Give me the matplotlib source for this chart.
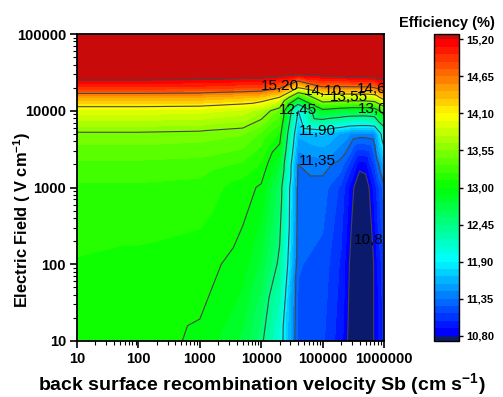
import numpy as np
import matplotlib
matplotlib.use("Agg")
import matplotlib.pyplot as plt
import matplotlib.tri as mtri
from matplotlib.colors import ListedColormap, LinearSegmentedColormap

plt.rcParams['font.family'] = ['Liberation Sans', 'DejaVu Sans']
plt.rcParams['mathtext.fontset'] = 'custom'
plt.rcParams['mathtext.rm'] = 'Liberation Sans'
plt.rcParams['mathtext.bf'] = 'Liberation Sans:bold'

# back surface recombination velocity (cm/s) and electric field (V/cm)
sb = [10, 100, 1000, 5000, 1e4, 2e4, 4e4, 1e5, 2e5, 3e5, 4e5, 5e5, 7e5, 1e6]
field = [10, 100, 1000, 2000, 5000, 1e4, 1.5e4, 2e4, 3e4, 5e4, 1e5]

# efficiency (%), one row per field value
eff_e10 = [13.08, 13.05, 12.98, 12.75, 12.50, 12.05, 11.20, 11.15, 10.95, 10.70, 10.60, 10.60, 10.82, 11.05]
eff_e100 = [13.10, 13.08, 13.05, 12.95, 12.75, 12.40, 11.25, 11.20, 11.00, 10.74, 10.62, 10.62, 10.82, 11.10]
eff_e1000 = [13.20, 13.20, 13.18, 13.05, 12.98, 12.60, 11.30, 11.30, 11.10, 10.84, 10.68, 10.70, 10.95, 11.30]
eff_e2000 = [13.30, 13.30, 13.28, 13.20, 13.10, 12.80, 11.35, 11.40, 11.30, 11.05, 10.85, 10.87, 11.15, 11.60]
eff_e5000 = [13.52, 13.52, 13.50, 13.45, 13.30, 13.10, 11.60, 11.70, 11.55, 11.45, 11.42, 11.42, 11.45, 12.10]
eff_e1e4 = [13.95, 13.95, 13.93, 13.85, 13.70, 13.40, 11.90, 12.90, 12.80, 12.75, 12.75, 12.75, 12.80, 13.20]
eff_e15e3 = [14.45, 14.45, 14.43, 14.35, 14.30, 14.10, 13.05, 13.90, 13.85, 13.85, 13.85, 13.85, 13.90, 14.30]
eff_e2e4 = [14.95, 14.95, 14.93, 14.88, 14.85, 14.70, 14.10, 14.60, 14.60, 14.60, 14.60, 14.60, 14.65, 14.90]
eff_e3e4 = [15.40, 15.40, 15.38, 15.35, 15.35, 15.30, 15.22, 15.30, 15.35, 15.40, 15.40, 15.40, 15.40, 15.40]
eff_e5e4 = [15.50, 15.50, 15.50, 15.50, 15.50, 15.50, 15.50, 15.50, 15.50, 15.50, 15.50, 15.50, 15.50, 15.50]
eff_e1e5 = [15.50, 15.50, 15.50, 15.50, 15.50, 15.50, 15.50, 15.50, 15.50, 15.50, 15.50, 15.50, 15.50, 15.50]

x_ticks = [10, 100, 1000, 10000, 100000, 1000000]
y_ticks = [10, 100, 1000, 10000, 100000]
levels = np.round(np.arange(10.80, 15.20 + 0.001, 0.11), 2)
line_levels = np.round(np.arange(10.80, 15.20 + 0.001, 0.55), 2)

# where the contour labels sit (Sb, E) and which level they name
label_levels = [15.20, 14.10, 13.55, 14.65, 13.00, 12.45, 11.90, 11.35, 10.80]
label_sb = [2.0e4, 1.0e5, 2.7e5, 7.4e5, 7.6e5, 4.0e4, 8.1e4, 8.1e4, 6.6e5]
label_e = [2.1e4, 1.8e4, 1.5e4, 1.9e4, 1.05e4, 1.02e4, 5.5e3, 2.2e3, 2.1e2]

eff = np.array([eff_e10, eff_e100, eff_e1000, eff_e2000, eff_e5000, eff_e1e4,
                eff_e15e3, eff_e2e4, eff_e3e4, eff_e5e4, eff_e1e5])
SB, EF = np.meshgrid(np.log10(sb), np.log10(field))
tri = mtri.Triangulation(SB.ravel(), EF.ravel())

rainbow = LinearSegmentedColormap.from_list(
    'rainbow5', ['#0000ff', '#00ffff', '#00ff00', '#ffff00', '#ff0000'])
cmap = ListedColormap(rainbow(np.linspace(0, 1, len(levels) - 1)))
cmap.set_under('#0b1a6c')
cmap.set_over('#c80a0a')

fig = plt.figure(figsize=(5.03, 3.97), dpi=100)
ax = fig.add_axes((77 / 503, 56 / 397, 307 / 503, 307 / 397))
cax = fig.add_axes((434 / 503, 56 / 397, 25 / 503, 307 / 397))

cs = ax.tricontourf(tri, eff.ravel(), levels=levels, cmap=cmap, extend='both')
ax.tricontour(tri, eff.ravel(), levels=line_levels, colors='#454545', linewidths=0.8)

for lev, xs, ys in zip(label_levels, label_sb, label_e):
    ax.text(np.log10(xs), np.log10(ys), ('%.2f' % lev).replace('.', ','),
            fontsize=11, ha='center', va='center', clip_on=True)

ax.set_xlim(1, 6)
ax.set_ylim(1, 5)
ax.set_xticks(np.log10(x_ticks))
ax.set_xticklabels([str(v) for v in x_ticks])
ax.set_yticks(np.log10(y_ticks))
ax.set_yticklabels([str(v) for v in y_ticks])
ax.set_xticks([np.log10(k * 10 ** n) for n in range(1, 6) for k in range(2, 10)], minor=True)
ax.set_yticks([np.log10(k * 10 ** n) for n in range(1, 5) for k in range(2, 10)], minor=True)
ax.tick_params(which='major', direction='out', length=5, width=1.2, labelsize=10.5, pad=3)
ax.tick_params(which='minor', direction='out', length=3, width=0.8)
for lab in ax.get_xticklabels() + ax.get_yticklabels():
    lab.set_fontweight('bold')
for sp in ax.spines.values():
    sp.set_linewidth(1.3)

ax.set_xlabel(r'back surface recombination velocity Sb (cm s$^{\mathbf{-1}}$)',
              fontsize=14, fontweight='bold')
ax.xaxis.set_label_coords((261.5 - 77) / 307, -(385 - 341) / 307)
ax.xaxis.label.set_va('center')
ax.set_ylabel(r'Electric Field ( V cm$^{\mathbf{-1}}$)', fontsize=11.8, fontweight='bold')
ax.yaxis.set_label_coords(-(77 - 22) / 307, (341 - 220) / 307)
ax.yaxis.label.set_va('center')

cb = fig.colorbar(cs, cax=cax, extendrect=True, extendfrac=0.018)
cb.set_ticks(line_levels)
cb.set_ticklabels([('%.2f' % v).replace('.', ',') for v in line_levels])
cb.ax.tick_params(direction='out', length=3, width=1, labelsize=8, pad=2)
for lab in cb.ax.get_yticklabels():
    lab.set_fontweight('bold')
cb.outline.set_linewidth(1)
cax.set_title('Efficiency (%)', fontsize=10.5, fontweight='bold', pad=9)

fig.savefig('out.png', dpi=100)
